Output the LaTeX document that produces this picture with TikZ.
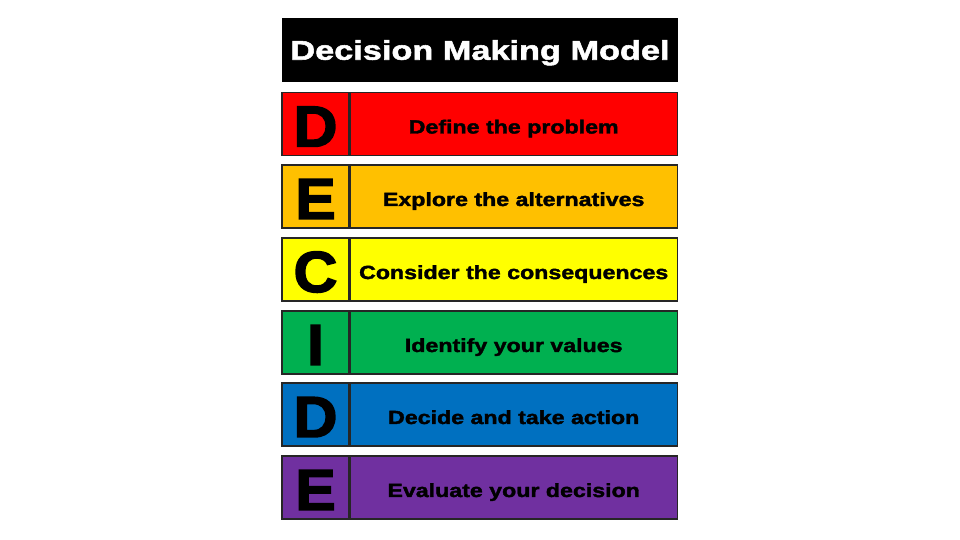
\documentclass[tikz,border=0pt]{standalone}
\usepackage{fontspec}
\newfontfamily\heavy{Liberation Sans Bold}[FakeBold=2,FakeStretch=1.22]
\newfontfamily\heavytitle{Liberation Sans Bold}[FakeBold=2,FakeStretch=1.27]
\newfontfamily\heavyletter{Liberation Sans Bold}[FakeBold=2.5,FakeStretch=1.05]
\definecolor{cred}{HTML}{FF0000}
\definecolor{corange}{HTML}{FFC000}
\definecolor{cyellow}{HTML}{FFFF00}
\definecolor{cgreen}{HTML}{00B050}
\definecolor{cblue}{HTML}{0070C0}
\definecolor{cpurple}{HTML}{7030A0}
\tikzset{
  letterbox/.style={draw=black!85, line width=1.2pt, minimum width=67pt, minimum height=63pt, inner sep=0pt, text height=45pt, text depth=0pt, font=\heavyletter\fontsize{58}{58}\selectfont, text=black},
  textbox/.style={draw=black!85, line width=1.2pt, minimum width=327pt, minimum height=63pt, inner sep=0pt, text height=19pt, text depth=0pt, font=\heavy\fontsize{19}{19}\selectfont, text=black},
  titlebox/.style={fill=black, minimum width=396pt, minimum height=64pt, inner sep=0pt, text height=19.5pt, text depth=0pt, font=\heavytitle\fontsize{27}{27}\selectfont, text=white}
}
\begin{document}
\begin{tikzpicture}[x=1pt,y=1pt]
\useasboundingbox[fill=white] (0,0) rectangle (960,540);
\node[titlebox] (title) at (480,490) {Decision Making Model};
\foreach \i/\yy/\col/\L/\T in {1/124/cred/D/Define the problem, 2/196.5/corange/E/Explore the alternatives, 3/269.5/cyellow/C/Consider the consequences, 4/342.5/cgreen/I/Identify your values, 5/414.5/cblue/D/Decide and take action, 6/487.5/cpurple/E/Evaluate your decision}{
  \node[letterbox, fill=\col] (L\i) at (315.5,540-\yy) {\L};
  \node[textbox, fill=\col, anchor=west] (T\i) at (L\i.east) {\T};
}
\end{tikzpicture}
\end{document}
